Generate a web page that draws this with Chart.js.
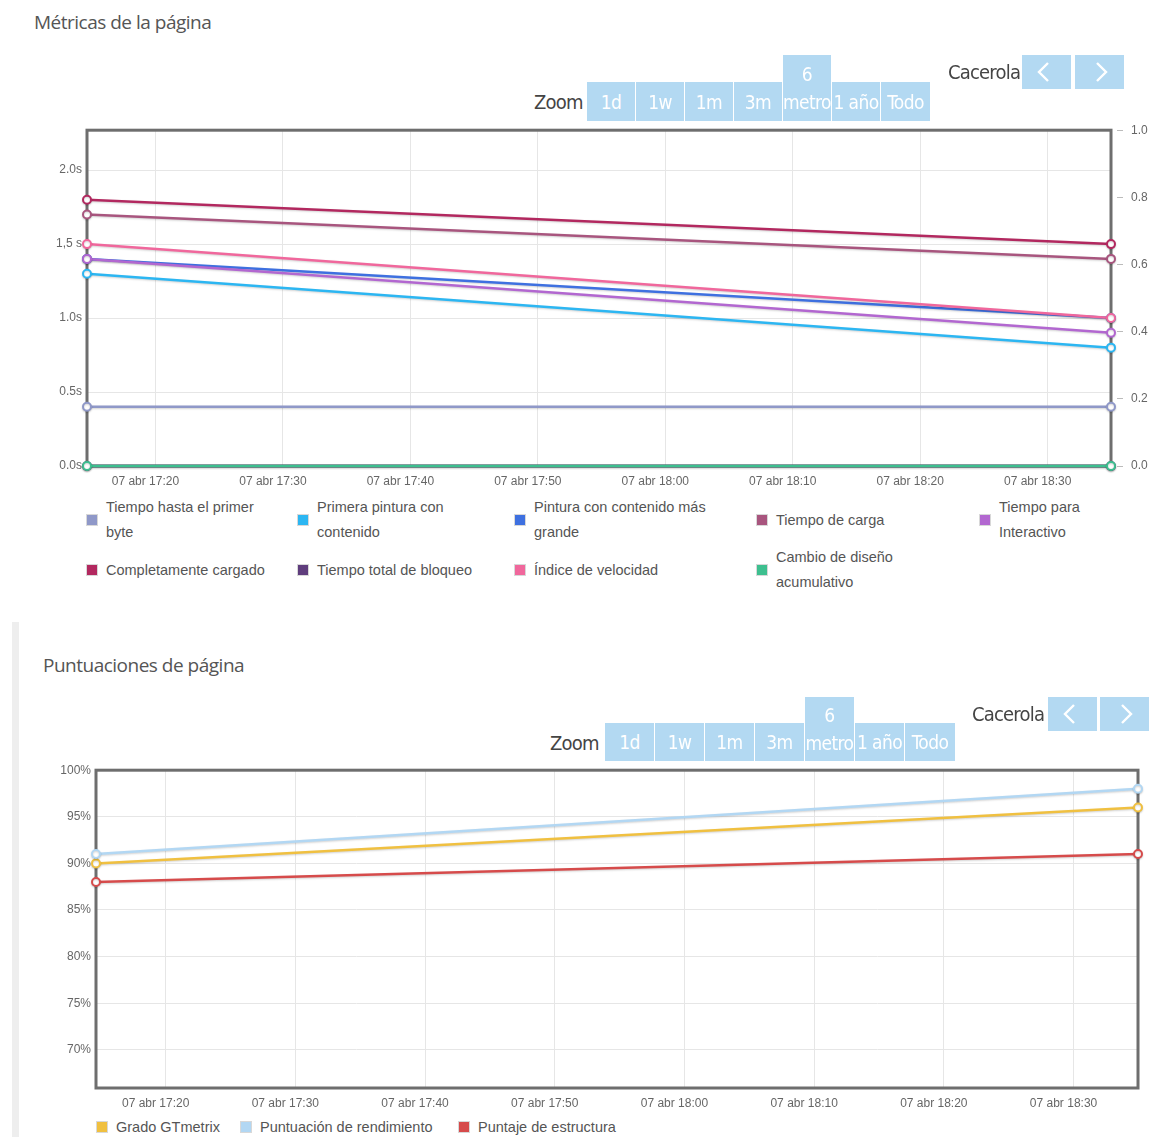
<!DOCTYPE html>
<html><head><meta charset="utf-8">
<script src="https://cdn.jsdelivr.net/npm/chart.js@4"></script>
<style>
html,body{margin:0;padding:0;background:#fff;}
body{width:1154px;height:1137px;overflow:hidden;position:relative;font-family:'Liberation Sans',Arial,sans-serif;}
.title{position:absolute;font-family:'Open Sans','Noto Sans',sans-serif;font-size:19px;color:#555;letter-spacing:-0.5px;white-space:nowrap;line-height:26px;}
.cond{font-family:'Liberation Sans Narrow','DejaVu Sans Condensed','Roboto Condensed',sans-serif;font-stretch:condensed;}
.btn{position:absolute;background:#b3d9f2;color:#fff;text-align:center;font-size:19px;display:flex;flex-direction:column;align-items:center;justify-content:center;line-height:28px;letter-spacing:-0.6px;white-space:nowrap;overflow:hidden;}
.lbl{position:absolute;font-size:20px;color:#444;letter-spacing:-0.8px;line-height:24px;white-space:nowrap;}
.lg{position:absolute;display:flex;align-items:center;font-size:14.5px;color:#555;line-height:25px;}
.lg .bx{width:10px;height:10px;border:1px solid #d8d8d8;margin-right:8px;flex:none;box-sizing:content-box;}
.lg .tx{display:block;}
.bar{position:absolute;left:12px;top:622px;width:7px;height:515px;background:#eeeeee;}
canvas{position:absolute;left:0;}
</style>
</head><body>
<div class="title" style="left:34px;top:9px;">Métricas de la página</div>
<div class="bar"></div>
<div class="title" style="left:43px;top:652px;">Puntuaciones de página</div>
<canvas id="c1" width="1154" height="377" style="top:115px;width:1154px;height:377px;"></canvas>
<canvas id="c2" width="1154" height="356" style="top:758px;width:1154px;height:356px;"></canvas>
<script>
// ---------- data ----------
const times = [14.63, 94.97];              // minutes after 17:00 (07 abr)
const xTickMinutes = [20, 30, 40, 50, 60, 70, 80, 90];
const xTickLabels = ['07 abr 17:20','07 abr 17:30','07 abr 17:40','07 abr 17:50','07 abr 18:00','07 abr 18:10','07 abr 18:20','07 abr 18:30'];

const yLeftTicks = [0, 0.5, 1, 1.5, 2];
const yLeftLabels = ['0.0s','0.5s','1.0s','1,5 s','2.0s'];
const yRightTicks = [0, 0.2, 0.4, 0.6, 0.8, 1.0];
const yRightLabels = ['0.0','0.2','0.4','0.6','0.8','1.0'];

const metricNames = ['Tiempo hasta el primer byte','Primera pintura con contenido','Pintura con contenido más grande','Tiempo de carga','Tiempo para Interactivo','Completamente cargado','Tiempo total de bloqueo','Índice de velocidad','Cambio de diseño acumulativo'];
const tiempoPrimerByte = [0.4, 0.4];
const primeraPintura = [1.3, 0.8];
const pinturaMasGrande = [1.4, 1.0];
const tiempoCarga = [1.7, 1.4];
const tiempoInteractivo = [1.4, 0.9];
const completamenteCargado = [1.8, 1.5];
const tiempoBloqueo = [0, 0];
const indiceVelocidad = [1.5, 1.0];
const cambioDiseno = [0, 0];

const scoreTicks = [70, 75, 80, 85, 90, 95, 100];
const scoreLabels = ['70%','75%','80%','85%','90%','95%','100%'];
const scoreNames = ['Grado GTmetrix','Puntuación de rendimiento','Puntaje de estructura'];
const gradoGTmetrix = [90, 96];
const puntuacionRendimiento = [91, 98];
const puntajeEstructura = [88, 91];

// ---------- styles ----------
const metricColors = ['#8f98c8','#2cb6f2','#3e70e0','#a8557e','#b267d0','#b2285f','#5f3d7d','#f0679c','#3dbf8f'];
const metricAxes = ['y','y','y','y','y','y','y','y','y1'];
const scoreColors = ['#f0c040','#b2d7f3','#d64b4b'];
const tickFont = {family:"'Liberation Sans', Arial, sans-serif", size:12};
const tickColor = '#666';

const frame = {
  id:'frame',
  beforeDatasetsDraw(chart){
    const {ctx, chartArea:a} = chart;
    ctx.save(); ctx.strokeStyle='#6e6e6e'; ctx.lineWidth=3;
    ctx.strokeRect(a.left, a.top, a.right-a.left, a.bottom-a.top);
    ctx.restore();
  }
};
const shadow = {
  id:'shadow',
  beforeDatasetDraw(chart){ const c=chart.ctx; c.save(); c.shadowColor='rgba(0,0,0,0.18)'; c.shadowBlur=2; c.shadowOffsetY=1; },
  afterDatasetDraw(chart){ chart.ctx.restore(); }
};

function makeDs(label, vals, color, axis, order){
  return {label, data: times.map((t,i)=>({x:t, y:vals[i]})), borderColor:color, backgroundColor:color,
    borderWidth:2.5, pointRadius:4, pointHoverRadius:4, pointBackgroundColor:'#fff', pointBorderColor:color,
    pointBorderWidth:2, tension:0, clip:false, yAxisID:axis, order};
}
function xScale(){
  return {type:'linear', min:times[0], max:times[times.length-1],
    afterBuildTicks:s=>{s.ticks = xTickMinutes.map(v=>({value:v}));},
    ticks:{callback:v=>xTickLabels[xTickMinutes.indexOf(v)], autoSkip:false, maxRotation:0, padding:8, labelOffset:-10, color:tickColor, font:tickFont},
    grid:{color:'#e6e6e6', drawTicks:false}, border:{display:false},
    afterFit:s=>{s.height=26;}};
}

const metricSeries = [tiempoPrimerByte, primeraPintura, pinturaMasGrande, tiempoCarga, tiempoInteractivo, completamenteCargado, tiempoBloqueo, indiceVelocidad, cambioDiseno];
const chart1 = new Chart(document.getElementById('c1'), {
  type:'line',
  data:{datasets: metricSeries.map((vals,i)=>makeDs(metricNames[i], vals, metricColors[i], metricAxes[i], metricSeries.length - i))},
  options:{
    responsive:false, animation:false, devicePixelRatio:1,
    layout:{autoPadding:false, padding:{top:6, left:0, right:0, bottom:0}},
    plugins:{legend:{display:false}, tooltip:{enabled:false}},
    scales:{
      x: xScale(),
      y:{min:0, max:2.27,
        afterBuildTicks:s=>{s.ticks = yLeftTicks.map(v=>({value:v}));},
        ticks:{callback:v=>yLeftLabels[yLeftTicks.indexOf(v)], padding:5, color:tickColor, font:tickFont},
        grid:{color:'#e6e6e6', drawTicks:false}, border:{display:false},
        afterFit:s=>{s.width=87;}},
      y1:{position:'right', min:0, max:1,
        afterBuildTicks:s=>{s.ticks = yRightTicks.map(v=>({value:v}));},
        ticks:{callback:v=>yRightLabels[yRightTicks.indexOf(v)], padding:8, color:tickColor, font:tickFont},
        grid:{drawOnChartArea:false, drawTicks:true, tickLength:12, tickColor:'#bbb', tickBorderDash:[0,6,6,30]},
        border:{display:false},
        afterFit:s=>{s.width=43;}}
    }
  },
  plugins:[frame, shadow]
});

const scoreSeries = [gradoGTmetrix, puntuacionRendimiento, puntajeEstructura];
const chart2 = new Chart(document.getElementById('c2'), {
  type:'line',
  data:{datasets: scoreSeries.map((vals,i)=>makeDs(scoreNames[i], vals, scoreColors[i], 'y', scoreSeries.length - i))},
  options:{
    responsive:false, animation:false, devicePixelRatio:1,
    layout:{autoPadding:false, padding:{top:8, left:0, right:16, bottom:0}},
    plugins:{legend:{display:false}, tooltip:{enabled:false}},
    scales:{
      x: xScale(),
      y:{min:65.9, max:100,
        afterBuildTicks:s=>{s.ticks = scoreTicks.map(v=>({value:v}));},
        ticks:{callback:v=>scoreLabels[scoreTicks.indexOf(v)], padding:5, color:tickColor, font:tickFont},
        grid:{color:'#e6e6e6', drawTicks:false}, border:{display:false},
        afterFit:s=>{s.width=96;}}
    }
  },
  plugins:[frame, shadow]
});

// ---------- HTML legends built from the chart datasets ----------
function legendItem(ds, left, top, height, textWidth){
  const d = document.createElement('div');
  d.className='lg';
  d.style.left=left+'px'; d.style.top=top+'px'; d.style.height=height+'px';
  const b = document.createElement('span'); b.className='bx'; b.style.background=ds.borderColor;
  const t = document.createElement('span'); t.className='tx'; t.textContent=ds.label;
  if (textWidth) t.style.width=textWidth+'px';
  d.appendChild(b); d.appendChild(t);
  document.body.appendChild(d);
}
const colLeft = [86, 297, 514, 756, 979];
const colText = [162, 172, 186, 135, 100];
chart1.data.datasets.forEach((ds,i)=>{
  const r = Math.floor(i/5), c = i%5;
  legendItem(ds, colLeft[c], 495 + r*50, 50, colText[c]);
});
const lg2Left = [96, 240, 458];
chart2.data.datasets.forEach((ds,i)=>{ legendItem(ds, lg2Left[i], 1114, 26, null); });

// ---------- range selector / navigation controls ----------
const zoomLabels = [['1d'],['1w'],['1m'],['3m'],['6','metro'],['1 año'],['Todo']];
function controls(o){
  const z = document.createElement('div'); z.className='lbl cond'; z.textContent='Zoom';
  z.style.left=o.zoomX+'px'; z.style.top=(o.btnTop+8)+'px'; document.body.appendChild(z);
  zoomLabels.forEach((lab,i)=>{
    const b = document.createElement('div'); b.className='btn cond';
    const tall = lab.length>1;
    b.style.left=(o.x0 + i*o.step)+'px';
    b.style.top=(tall? o.tallTop : o.btnTop)+'px';
    b.style.width=(o.step-1 + (i===6?1:0))+'px';
    b.style.height=(tall? o.btnTop+o.btnH-o.tallTop : o.btnH)+'px';
    lab.forEach(s=>{const sp=document.createElement('span'); sp.textContent=s; b.appendChild(sp);});
    document.body.appendChild(b);
  });
  const c = document.createElement('div'); c.className='lbl cond'; c.textContent='Cacerola';
  c.style.left=o.cacX+'px'; c.style.top=(o.tallTop+5)+'px'; document.body.appendChild(c);
  [['M 26 8 L 17 17 L 26 26', o.a1], ['M 22 8 L 31 17 L 22 26', o.a2]].forEach(([p,x])=>{
    const b = document.createElement('div'); b.className='btn';
    b.style.left=x+'px'; b.style.top=o.tallTop+'px'; b.style.width='49px'; b.style.height='34px';
    b.innerHTML='<svg width="49" height="34"><path d="'+p+'" stroke="#fff" stroke-width="2.4" fill="none"/></svg>';
    document.body.appendChild(b);
  });
}
controls({zoomX:534, x0:587, step:49, btnTop:82, btnH:39, tallTop:55, cacX:948, a1:1022, a2:1075});
controls({zoomX:550, x0:605, step:50, btnTop:723, btnH:38, tallTop:697, cacX:972, a1:1048, a2:1100});
</script>
</body></html>
